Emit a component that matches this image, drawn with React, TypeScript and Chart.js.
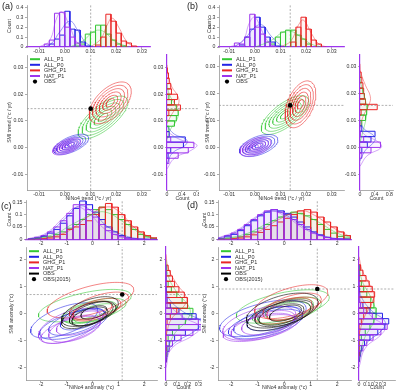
import React, { useEffect, useRef } from "react";
import { Chart, registerables } from "chart.js";
Chart.register(...registerables);

const FONT = "'Liberation Sans', Arial, sans-serif";
Chart.defaults.font.family = FONT;

const GREEN = "#33c733";
const BLUE = "#2323e6";
const RED = "#ea2626";
const PURPLE = "#9d35ee";
const BLACK = "#111111";
const SERIES_COLORS = [GREEN, BLUE, RED, PURPLE];

// ---------- tick labels ----------
const trendTicks = [-0.01, 0, 0.01, 0.02, 0.03];
const trendLabels = ["-0.01", "0.00", "0.01", "0.02", "0.03"];
const abCountTicks = [0, 0.1, 0.2, 0.3, 0.4];
const abCountLabels = ["0", "0.1", "0.2", "0.3", "0.4"];
const abRightTicks = [0, 0.4, 0.8];
const abRightLabels = ["0", "0.4", "0.8"];
const anomTicks = [-2, -1, 0, 1, 2];
const anomLabels = ["-2", "-1", "0", "1", "2"];
const cdCountTicks = [0, 0.05, 0.1, 0.15];
const cdCountLabels = ["0", "0.05", "0.1", "0.15"];
const cdRightTicks = [0, 0.1, 0.2, 0.3];
const cdRightLabels = ["0", "0.1", "0.2", "0.3"];

// ---------- panel (a) ----------
const aObs = [0.0101, 0.0146];
const aTopWidth = 0.002;
const aTopStarts = [0.004, -0.006, 0.012, -0.008];
const aTopAllP1 = [0.01, 0.03, 0.13, 0.15, 0.22, 0.22, 0.13, 0.07, 0.03, 0.01];
const aTopAllP0 = [0.03, 0.08, 0.12, 0.36, 0.18, 0.17, 0.05, 0.01];
const aTopGhgP1 = [0.02, 0.1, 0.33, 0.26, 0.14, 0.06, 0.04, 0.01];
const aTopNatP1 = [0.03, 0.07, 0.34, 0.35, 0.2, 0.1, 0.04, 0.01];
const aTopCurveAllP1 = [[0.002, 0], [0.007, 0.06], [0.011, 0.15], [0.0135, 0.17], [0.016, 0.14], [0.02, 0.05], [0.025, 0]];
const aTopCurveAllP0 = [[-0.008, 0], [-0.005, 0.04], [-0.002, 0.15], [0.002, 0.26], [0.005, 0.17], [0.008, 0.05], [0.011, 0]];
const aTopCurveGhgP1 = [[0.01, 0], [0.014, 0.08], [0.0165, 0.22], [0.0185, 0.29], [0.021, 0.2], [0.024, 0.06], [0.027, 0]];
const aTopCurveNatP1 = [[-0.01, 0], [-0.006, 0.06], [-0.003, 0.3], [-0.001, 0.35], [0.002, 0.2], [0.005, 0.04], [0.008, 0]];
const aRightWidth = 0.002;
const aRightStarts = [0.006, -0.004, 0.012, -0.006];
const aRightAllP1 = [0.05, 0.2, 0.25, 0.3, 0.25, 0.12, 0.05];
const aRightAllP0 = [0.03, 0.1, 0.44, 0.49, 0.06];
const aRightGhgP1 = [0.05, 0.36, 0.2, 0.28, 0.12, 0.1, 0.06, 0.04, 0.02];
const aRightNatP1 = [0.05, 0.3, 0.57, 0.72, 0.1];
const aRightCurveAllP1 = [[0.003, 0], [0.007, 0.1], [0.01, 0.25], [0.013, 0.3], [0.016, 0.22], [0.02, 0.06], [0.024, 0]];
const aRightCurveAllP0 = [[-0.006, 0], [-0.002, 0.15], [0.001, 0.5], [0.003, 0.52], [0.005, 0.2], [0.008, 0]];
const aRightCurveGhgP1 = [[0.009, 0], [0.013, 0.15], [0.016, 0.3], [0.019, 0.3], [0.023, 0.12], [0.028, 0.02], [0.031, 0]];
const aRightCurveNatP1 = [[-0.008, 0], [-0.004, 0.2], [-0.001, 0.65], [0.001, 0.8], [0.003, 0.35], [0.006, 0]];
// ellipse = [meanX, meanY, halfWidthX, halfWidthY, correlation]
const aEllAllP1 = [0.0149, 0.0113, 0.0097, 0.008, 0.72];
const aEllAllP0 = [0.0025, 0.0012, 0.0068, 0.0038, 0.6];
const aEllGhgP1 = [0.0177, 0.0168, 0.0082, 0.0078, 0.55];
const aEllNatP1 = [0.0008, 0.0004, 0.0055, 0.0032, 0.55];
const contourLevels = [1, 0.84, 0.68, 0.52, 0.36, 0.2];

// ---------- panel (b) ----------
const bObs = [0.0138, 0.0156];
const bTopWidth = 0.002;
const bTopStarts = [0.006, -0.006, 0.014, -0.008];
const bTopAllP1 = [0.03, 0.1, 0.15, 0.17, 0.17, 0.12, 0.08, 0.03];
const bTopAllP0 = [0.02, 0.1, 0.18, 0.3, 0.2, 0.1, 0.05, 0.01];
const bTopGhgP1 = [0.05, 0.2, 0.3, 0.18, 0.07, 0.03];
const bTopNatP1 = [0.04, 0.03, 0.1, 0.33, 0.2, 0.13, 0.05, 0.01];
const bTopCurveAllP1 = [[0.0, 0], [0.006, 0.06], [0.011, 0.15], [0.014, 0.16], [0.018, 0.1], [0.022, 0.03], [0.026, 0]];
const bTopCurveAllP0 = [[-0.008, 0], [-0.004, 0.08], [0.0, 0.2], [0.003, 0.22], [0.006, 0.12], [0.01, 0.02], [0.012, 0]];
const bTopCurveGhgP1 = [[0.01, 0], [0.014, 0.06], [0.017, 0.22], [0.019, 0.27], [0.022, 0.14], [0.025, 0.03], [0.028, 0]];
const bTopCurveNatP1 = [[-0.01, 0], [-0.005, 0.05], [-0.002, 0.25], [0.0, 0.3], [0.003, 0.15], [0.006, 0.03], [0.009, 0]];
const bRightWidth = 0.002;
const bRightStarts = [0.008, -0.002, 0.012, -0.004];
const bRightAllP1 = [0.05, 0.15, 0.18, 0.2, 0.15, 0.12, 0.08];
const bRightAllP0 = [0.05, 0.2, 0.3, 0.41, 0.05];
const bRightGhgP1 = [0.03, 0.47, 0.15, 0.12, 0.1, 0.08, 0.05, 0.03];
const bRightNatP1 = [0.05, 0.3, 0.56, 0.1, 0.02];
const bRightCurveAllP1 = [[0.002, 0], [0.008, 0.12], [0.012, 0.18], [0.015, 0.18], [0.019, 0.12], [0.024, 0.02], [0.027, 0]];
const bRightCurveAllP0 = [[-0.005, 0], [-0.001, 0.15], [0.002, 0.38], [0.004, 0.4], [0.007, 0.1], [0.01, 0]];
const bRightCurveGhgP1 = [[0.008, 0], [0.012, 0.1], [0.016, 0.25], [0.019, 0.28], [0.023, 0.15], [0.028, 0.02], [0.031, 0]];
const bRightCurveNatP1 = [[-0.007, 0], [-0.003, 0.2], [0.0, 0.58], [0.002, 0.5], [0.005, 0.1], [0.008, 0]];
const bEllAllP1 = [0.0118, 0.012, 0.0093, 0.0072, 0.7];
const bEllAllP0 = [0.0015, 0.0007, 0.0075, 0.0041, 0.5];
const bEllGhgP1 = [0.0178, 0.016, 0.006, 0.0087, 0.45];
const bEllNatP1 = [0.0002, 0.0002, 0.006, 0.0035, 0.45];

// ---------- panel (c) ----------
const cObs = [1.15, 0.71];
const cTopWidth = 0.25;
const cTopStarts = [-2.5, -2.5, -2.5, -2.5];
const cTopAllP1 = [0, 0.002, 0.005, 0.01, 0.02, 0.03, 0.045, 0.06, 0.08, 0.1, 0.12, 0.13, 0.12, 0.1, 0.08, 0.06, 0.04, 0.02, 0.01, 0.004];
const cTopAllP0 = [0.002, 0.005, 0.012, 0.025, 0.04, 0.065, 0.095, 0.125, 0.155, 0.14, 0.11, 0.08, 0.05, 0.03, 0.015, 0.006, 0.002, 0, 0, 0];
const cTopGhgP1 = [0, 0, 0.002, 0.005, 0.01, 0.02, 0.04, 0.05, 0.06, 0.075, 0.1, 0.13, 0.145, 0.13, 0.1, 0.075, 0.05, 0.03, 0.015, 0.006];
const cTopNatP1 = [0.003, 0.008, 0.015, 0.03, 0.05, 0.075, 0.105, 0.14, 0.14, 0.12, 0.09, 0.06, 0.035, 0.02, 0.01, 0.004, 0.001, 0, 0, 0];
const cTopCurveAllP1 = [[-2.5, 0], [-1.5, 0.02], [-0.8, 0.06], [0, 0.1], [0.5, 0.11], [1.2, 0.07], [2, 0.015], [2.5, 0]];
const cTopCurveAllP0 = [[-2.5, 0], [-1.8, 0.02], [-1, 0.09], [-0.5, 0.135], [0, 0.11], [0.6, 0.05], [1.4, 0.01], [2.2, 0]];
const cTopCurveGhgP1 = [[-2, 0], [-1, 0.03], [-0.2, 0.09], [0.5, 0.13], [1, 0.115], [1.6, 0.05], [2.2, 0.01], [2.5, 0]];
const cTopCurveNatP1 = [[-2.5, 0.002], [-1.8, 0.025], [-1.1, 0.09], [-0.6, 0.13], [-0.1, 0.1], [0.5, 0.04], [1.2, 0.008], [2, 0]];
const cRightWidth = 0.2;
const cRightStarts = [-1.8, -1.8, -1.8, -1.8];
const cRightAllP1 = [0, 0, 0, 0, 0.02, 0.06, 0.12, 0.18, 0.24, 0.25, 0.2, 0.15, 0.1, 0.05, 0.02, 0, 0, 0];
const cRightAllP0 = [0, 0, 0.01, 0.03, 0.08, 0.18, 0.3, 0.36, 0.28, 0.12, 0.04, 0.01, 0, 0, 0, 0, 0, 0];
const cRightGhgP1 = [0, 0, 0, 0, 0, 0, 0, 0.01, 0.04, 0.1, 0.2, 0.2, 0.17, 0.12, 0.08, 0.06, 0.04, 0.02];
const cRightNatP1 = [0, 0.01, 0.03, 0.06, 0.14, 0.25, 0.33, 0.3, 0.15, 0.05, 0.01, 0, 0, 0, 0, 0, 0, 0];
const cRightCurveAllP1 = [[-1.6, 0], [-0.8, 0.07], [-0.2, 0.2], [0.2, 0.22], [0.8, 0.1], [1.4, 0.02], [2, 0]];
const cRightCurveAllP0 = [[-1.8, 0], [-1.2, 0.05], [-0.6, 0.28], [-0.3, 0.33], [0.1, 0.15], [0.6, 0.02], [1, 0]];
const cRightCurveGhgP1 = [[-0.8, 0], [-0.2, 0.05], [0.3, 0.17], [0.6, 0.19], [1.1, 0.1], [1.7, 0.02], [2.2, 0]];
const cRightCurveNatP1 = [[-2, 0], [-1.3, 0.05], [-0.8, 0.25], [-0.5, 0.32], [-0.1, 0.15], [0.4, 0.02], [0.8, 0]];
const cEllAllP1 = [[-0.3, 0.3, 1.8, 0.6, 0.6], [0.05, 0.12, 1.25, 0.45, 0.6], [0.1, 0.02, 0.85, 0.35, 0.55], [-0.1, 0.05, 1.05, 0.42, 0.55]];
const cEllAllP0 = [[-1.1, -0.25, 1.3, 0.65, 0.6], [-0.6, -0.3, 1.1, 0.5, 0.6], [-0.4, -0.2, 0.85, 0.4, 0.55], [-0.75, -0.4, 1.3, 0.55, 0.6]];
const cEllGhgP1 = [[-0.08, 0.5, 1.68, 0.66, 0.6], [0.25, 0.3, 1.15, 0.5, 0.6], [0.15, 0.15, 0.95, 0.42, 0.55], [0.0, 0.12, 0.75, 0.35, 0.5]];
const cEllNatP1 = [[-0.9, -0.45, 1.2, 0.65, 0.55], [-0.7, -0.55, 1.0, 0.5, 0.5], [-0.5, -0.35, 0.9, 0.45, 0.55], [-0.85, -0.6, 1.15, 0.5, 0.6]];
const cEllObs = [[-0.1, 0.08, 1.1, 0.55, 0.55], [0, 0, 0.9, 0.45, 0.55], [-0.1, -0.1, 0.7, 0.35, 0.5], [0.05, 0.05, 0.5, 0.25, 0.5], [-0.2, -0.05, 1.0, 0.5, 0.6]];

// ---------- panel (d) ----------
const dObs = [1.25, 0.9];
const dTopWidth = 0.25;
const dTopStarts = [-2.5, -2.5, -2.5, -2.5];
const dTopAllP1 = [0, 0.002, 0.005, 0.01, 0.02, 0.03, 0.045, 0.06, 0.075, 0.09, 0.1, 0.11, 0.105, 0.095, 0.08, 0.06, 0.04, 0.025, 0.012, 0.005];
const dTopAllP0 = [0.003, 0.01, 0.02, 0.035, 0.055, 0.075, 0.095, 0.11, 0.12, 0.115, 0.105, 0.09, 0.07, 0.05, 0.03, 0.018, 0.008, 0.003, 0.001, 0];
const dTopGhgP1 = [0, 0, 0.002, 0.005, 0.01, 0.018, 0.028, 0.04, 0.055, 0.07, 0.085, 0.1, 0.115, 0.12, 0.11, 0.09, 0.07, 0.05, 0.03, 0.015];
const dTopNatP1 = [0.005, 0.015, 0.025, 0.04, 0.06, 0.08, 0.1, 0.115, 0.12, 0.11, 0.1, 0.08, 0.06, 0.04, 0.025, 0.015, 0.007, 0.003, 0, 0];
const dTopCurveAllP1 = [[-2.5, 0], [-1.5, 0.02], [-0.7, 0.06], [0.1, 0.1], [0.5, 0.105], [1.2, 0.075], [2, 0.025], [2.5, 0.008]];
const dTopCurveAllP0 = [[-2.5, 0.003], [-1.8, 0.03], [-1, 0.09], [-0.4, 0.115], [0.2, 0.09], [0.9, 0.04], [1.7, 0.008], [2.5, 0]];
const dTopCurveGhgP1 = [[-2, 0], [-1, 0.03], [-0.2, 0.08], [0.6, 0.115], [1.1, 0.1], [1.8, 0.05], [2.5, 0.01]];
const dTopCurveNatP1 = [[-2.5, 0.005], [-1.8, 0.035], [-1, 0.095], [-0.5, 0.115], [0.1, 0.09], [0.8, 0.04], [1.6, 0.008], [2.3, 0]];
const dRightWidth = 0.2;
const dRightStarts = [-1.8, -1.8, -1.8, -1.8];
const dRightAllP1 = [0, 0, 0, 0.01, 0.03, 0.08, 0.14, 0.19, 0.22, 0.22, 0.19, 0.15, 0.1, 0.06, 0.03, 0.01, 0, 0];
const dRightAllP0 = [0, 0.01, 0.03, 0.07, 0.14, 0.24, 0.33, 0.38, 0.3, 0.14, 0.05, 0.01, 0, 0, 0, 0, 0, 0];
const dRightGhgP1 = [0, 0, 0, 0, 0, 0, 0.01, 0.03, 0.06, 0.1, 0.15, 0.19, 0.2, 0.17, 0.13, 0.09, 0.05, 0.02];
const dRightNatP1 = [0.01, 0.02, 0.05, 0.1, 0.18, 0.28, 0.36, 0.3, 0.17, 0.06, 0.02, 0, 0, 0, 0, 0, 0, 0];
const dRightCurveAllP1 = [[-1.8, 0], [-1, 0.06], [-0.3, 0.19], [0.1, 0.21], [0.6, 0.15], [1.2, 0.04], [1.8, 0]];
const dRightCurveAllP0 = [[-1.8, 0], [-1.2, 0.07], [-0.6, 0.3], [-0.3, 0.33], [0.1, 0.16], [0.6, 0.03], [1, 0]];
const dRightCurveGhgP1 = [[-0.8, 0], [-0.2, 0.06], [0.4, 0.17], [0.7, 0.19], [1.1, 0.13], [1.6, 0.04], [2.1, 0]];
const dRightCurveNatP1 = [[-2, 0], [-1.3, 0.08], [-0.8, 0.28], [-0.5, 0.33], [-0.1, 0.15], [0.4, 0.03], [0.8, 0]];
const dEllAllP1 = [[-0.05, 0.25, 1.75, 0.62, 0.55], [0.1, 0.1, 1.3, 0.5, 0.55], [0.0, 0.0, 1.0, 0.42, 0.5], [0.2, 0.15, 0.9, 0.4, 0.5]];
const dEllAllP0 = [[-0.8, -0.19, 1.63, 0.68, 0.55], [-0.6, -0.3, 1.3, 0.55, 0.55], [-0.4, -0.2, 1.0, 0.45, 0.5], [-0.7, -0.4, 1.4, 0.55, 0.55]];
const dEllGhgP1 = [[0.27, 0.43, 1.38, 0.63, 0.55], [0.3, 0.25, 1.1, 0.5, 0.55], [0.2, 0.15, 0.85, 0.42, 0.5], [0.1, 0.1, 1.2, 0.5, 0.55]];
const dEllNatP1 = [[-0.93, -0.37, 1.38, 0.63, 0.5], [-0.8, -0.5, 1.2, 0.5, 0.5], [-0.6, -0.35, 1.0, 0.45, 0.5], [-0.9, -0.55, 1.4, 0.5, 0.55]];
const dEllObs = [[-0.07, 0.1, 1.35, 0.65, 0.5], [0, 0, 1.1, 0.5, 0.5], [-0.1, -0.05, 0.85, 0.4, 0.5], [0.05, 0.0, 0.6, 0.3, 0.5], [-0.2, -0.1, 1.2, 0.55, 0.55]];

// ---------- helpers ----------
function rgba(hex: string, a: number) {
  const n = parseInt(hex.slice(1), 16);
  return `rgba(${(n >> 16) & 255},${(n >> 8) & 255},${n & 255},${a})`;
}

function histDS(start: number, width: number, counts: number[], color: string, horizontal: boolean) {
  const data: any[] = [];
  counts.forEach((c, i) => {
    const a = start + i * width;
    const b = a + width;
    [[a, 0], [a, c], [b, c], [b, 0]].forEach(([u, v]) => data.push(horizontal ? { x: v, y: u } : { x: u, y: v }));
  });
  return { data, borderColor: color, backgroundColor: rgba(color, 0.05), fill: "shape", borderWidth: 1, pointRadius: 0, tension: 0 };
}

function curveDS(points: number[][], color: string, horizontal: boolean) {
  return {
    data: points.map(([u, v]) => (horizontal ? { x: v, y: u } : { x: u, y: v })),
    borderColor: rgba(color, 0.55), borderWidth: 0.8, pointRadius: 0, tension: 0.45, fill: false,
  };
}

function ellipseDS(e: number[], k: number, color: string) {
  const [mx, my, sx, sy, r] = e;
  const q = Math.sqrt(1 - r * r);
  const data: any[] = [];
  for (let i = 0; i <= 90; i++) {
    const t = (i / 90) * Math.PI * 2;
    data.push({ x: mx + k * sx * Math.cos(t), y: my + k * sy * (r * Math.cos(t) + q * Math.sin(t)) });
  }
  return { data, borderColor: rgba(color, color === BLACK ? 0.85 : 0.75), borderWidth: 0.75, pointRadius: 0, tension: 0, fill: false };
}

function dashDS(x0: number, y0: number, x1: number, y1: number) {
  return { data: [{ x: x0, y: y0 }, { x: x1, y: y1 }], borderColor: "#9a9a9a", borderDash: [2, 1.6], borderWidth: 0.8, pointRadius: 0, fill: false };
}

function dotDS(x: number, y: number) {
  return { data: [{ x, y }], showLine: false, pointRadius: 2.3, pointBackgroundColor: "#000", pointBorderColor: "#000", pointBorderWidth: 0 };
}

type Rect = { cl: number; ct: number; cr: number; cb: number; pl: number; pt: number; pr: number; pb: number };
type Axis = { min: number; max: number; ticks: number[]; labels: string[]; title?: string; titleOff?: number; border?: string };

function legendPlugin(items: any[]) {
  return {
    id: "inlineLegend",
    afterDraw(chart: any) {
      const { ctx, chartArea } = chart;
      ctx.save();
      ctx.font = `5.5px ${FONT}`;
      ctx.textBaseline = "middle";
      items.forEach((it: any, i: number) => {
        const y = chartArea.top + 4.2 + i * 5.6;
        const x = chartArea.left + 3;
        if (it[2] === "line") {
          ctx.strokeStyle = it[1];
          ctx.lineWidth = 2;
          ctx.beginPath();
          ctx.moveTo(x, y);
          ctx.lineTo(x + 10, y);
          ctx.stroke();
        } else {
          ctx.fillStyle = it[1];
          ctx.beginPath();
          ctx.arc(x + 5, y, 2.1, 0, Math.PI * 2);
          ctx.fill();
        }
        ctx.fillStyle = "#333";
        ctx.fillText(it[0], x + 14, y + 0.3);
      });
      ctx.restore();
    },
  };
}

function makeConfig(rect: Rect, xa: Axis, ya: Axis, datasets: any[], plugins: any[] = []) {
  const xh = rect.cb - rect.pb;
  const yw = rect.pl - rect.cl;
  const axis = (a: Axis, isX: boolean) => ({
    type: "linear",
    min: a.min,
    max: a.max,
    position: isX ? "bottom" : "left",
    afterBuildTicks: (s: any) => {
      s.ticks = a.ticks.map((v) => ({ value: v }));
    },
    afterFit: (s: any) => {
      if (isX) s.height = xh;
      else s.width = yw;
      s.paddingLeft = 0;
      s.paddingRight = 0;
      s.paddingTop = 0;
      s.paddingBottom = 0;
    },
    ticks: {
      autoSkip: false, maxRotation: 0, minRotation: 0, padding: isX ? -1 : 1.5, color: "#333",
      font: { size: 5.2, family: FONT }, callback: (_v: any, i: number) => a.labels[i],
    },
    grid: { display: true, drawOnChartArea: false, drawTicks: true, tickLength: 2, color: "#8a8a8a", lineWidth: 0.7 },
    border: { display: true, color: a.border || "#8a8a8a", width: a.border ? 1.2 : 0.7 },
    title: {
      display: !!a.title, text: a.title || "", color: "#333", font: { size: 5.2, family: FONT },
      padding: isX ? { top: 0, bottom: a.titleOff || 0 } : { top: a.titleOff || 0, bottom: 0 },
    },
  });
  return {
    type: "line",
    data: { datasets: datasets.slice().reverse() },
    options: {
      responsive: false, animation: false, devicePixelRatio: 1, events: [],
      layout: { autoPadding: false, padding: { left: 0, top: rect.pt - rect.ct, right: rect.cr - rect.pr, bottom: 0 } },
      plugins: { legend: { display: false }, tooltip: { enabled: false } },
      scales: { x: axis(xa, true), y: axis(ya, false) },
    },
    plugins,
  };
}

type PanelDef = {
  top: Rect; main: Rect; right: Rect;
  xr: number[]; yr: number[]; cr: number[]; rr: number[];
  xTicks: number[]; xLabels: string[]; yTicks: number[]; yLabels: string[];
  cTicks: number[]; cLabels: string[]; rTicks: number[]; rLabels: string[];
  xTitle: string; yTitle: string; topTitleOff: number; mainTitleOff: number;
  obs: number[];
  topW: number; topStarts: number[]; topCounts: number[][]; topCurves: number[][][];
  rightW: number; rightStarts: number[]; rightCounts: number[][]; rightCurves: number[][][];
  ellipses: number[][][];
  legend: any[];
};

function panelConfigs(p: PanelDef) {
  const topDS: any[] = [dashDS(p.obs[0], p.cr[0], p.obs[0], p.cr[1])];
  const rightDS: any[] = [dashDS(p.rr[0], p.obs[1], p.rr[1], p.obs[1])];
  for (let s = 0; s < 4; s++) {
    topDS.push(histDS(p.topStarts[s], p.topW, p.topCounts[s], SERIES_COLORS[s], false));
    rightDS.push(histDS(p.rightStarts[s], p.rightW, p.rightCounts[s], SERIES_COLORS[s], true));
  }
  for (let s = 0; s < 4; s++) {
    topDS.push(curveDS(p.topCurves[s], SERIES_COLORS[s], false));
    rightDS.push(curveDS(p.rightCurves[s], SERIES_COLORS[s], true));
  }
  const mainDS: any[] = [dashDS(p.obs[0], p.yr[0], p.obs[0], p.yr[1]), dashDS(p.xr[0], p.obs[1], p.xr[1], p.obs[1])];
  const ellColors = [GREEN, BLUE, RED, PURPLE, BLACK];
  p.ellipses.forEach((list: any, s: number) => list.forEach((e: number[]) => mainDS.push(ellipseDS(e, e[5], ellColors[s]))));
  mainDS.push(dotDS(p.obs[0], p.obs[1]));

  const xAxisHist: Axis = { min: p.xr[0], max: p.xr[1], ticks: p.xTicks, labels: p.xLabels, border: PURPLE };
  const cAxis: Axis = { min: p.cr[0], max: p.cr[1], ticks: p.cTicks, labels: p.cLabels, title: "Count", titleOff: p.topTitleOff };
  const xMain: Axis = { min: p.xr[0], max: p.xr[1], ticks: p.xTicks, labels: p.xLabels, title: p.xTitle };
  const yMain: Axis = { min: p.yr[0], max: p.yr[1], ticks: p.yTicks, labels: p.yLabels, title: p.yTitle, titleOff: p.mainTitleOff };
  const yRight: Axis = { min: p.yr[0], max: p.yr[1], ticks: p.yTicks, labels: p.yLabels, border: PURPLE };
  const rAxis: Axis = { min: p.rr[0], max: p.rr[1], ticks: p.rTicks, labels: p.rLabels, title: "Count" };
  return [
    { rect: p.top, cfg: () => makeConfig(p.top, xAxisHist, cAxis, topDS) },
    { rect: p.main, cfg: () => makeConfig(p.main, xMain, yMain, mainDS, [legendPlugin(p.legend)]) },
    { rect: p.right, cfg: () => makeConfig(p.right, rAxis, yRight, rightDS) },
  ];
}

const abLegend = [["ALL_P1", GREEN, "line"], ["ALL_P0", BLUE, "line"], ["GHG_P1", RED, "line"], ["NAT_P1", PURPLE, "line"], ["OBS", "#000", "dot"]];
const cdLegend = [["ALL_P1", GREEN, "line"], ["ALL_P0", BLUE, "line"], ["GHG_P1", RED, "line"], ["NAT_P1", PURPLE, "line"], ["OBS", "#000", "line"], ["OBS(2015)", "#000", "dot"]];

const contourSet = (e: number[]) => contourLevels.map((k) => [...e, k]);
const singleSet = (list: number[][]) => list.map((e) => [...e, 1]);

const PANELS: PanelDef[] = [
  {
    top: { cl: 0, ct: 0, cr: 152, cb: 54, pl: 27, pt: 5, pr: 150, pb: 47 },
    main: { cl: 0, ct: 50, cr: 152, cb: 202, pl: 27, pt: 55, pr: 150, pb: 190 },
    right: { cl: 150, ct: 50, cr: 199, cb: 202, pl: 167, pt: 55, pr: 198, pb: 190 },
    xr: [-0.0147, 0.0332], yr: [-0.0159, 0.0347], cr: [0, 0.423], rr: [0, 0.83],
    xTicks: trendTicks, xLabels: trendLabels, yTicks: trendTicks, yLabels: trendLabels,
    cTicks: abCountTicks, cLabels: abCountLabels, rTicks: abRightTicks, rLabels: abRightLabels,
    xTitle: "NiNo4 trend (°c / yr)", yTitle: "SMI trend (°c / yr)", topTitleOff: 6.7, mainTitleOff: 6.7,
    obs: aObs,
    topW: aTopWidth, topStarts: aTopStarts, topCounts: [aTopAllP1, aTopAllP0, aTopGhgP1, aTopNatP1],
    topCurves: [aTopCurveAllP1, aTopCurveAllP0, aTopCurveGhgP1, aTopCurveNatP1],
    rightW: aRightWidth, rightStarts: aRightStarts, rightCounts: [aRightAllP1, aRightAllP0, aRightGhgP1, aRightNatP1],
    rightCurves: [aRightCurveAllP1, aRightCurveAllP0, aRightCurveGhgP1, aRightCurveNatP1],
    ellipses: [contourSet(aEllAllP1), contourSet(aEllAllP0), contourSet(aEllGhgP1), contourSet(aEllNatP1)] as any,
    legend: abLegend,
  },
  {
    top: { cl: 196, ct: 0, cr: 346, cb: 54, pl: 219, pt: 5, pr: 344, pb: 47 },
    main: { cl: 196, ct: 50, cr: 346, cb: 202, pl: 219, pt: 55, pr: 344, pb: 190 },
    right: { cl: 344, ct: 50, cr: 396, cb: 202, pl: 360, pt: 55, pr: 393, pb: 190 },
    xr: [-0.014, 0.0348], yr: [-0.0158, 0.0343], cr: [0, 0.423], rr: [0, 0.9],
    xTicks: trendTicks, xLabels: trendLabels, yTicks: trendTicks, yLabels: trendLabels,
    cTicks: abCountTicks, cLabels: abCountLabels, rTicks: abRightTicks, rLabels: abRightLabels,
    xTitle: "NiNo4 trend (°c / yr)", yTitle: "SMI trend (°c / yr)", topTitleOff: 10, mainTitleOff: 8.4,
    obs: bObs,
    topW: bTopWidth, topStarts: bTopStarts, topCounts: [bTopAllP1, bTopAllP0, bTopGhgP1, bTopNatP1],
    topCurves: [bTopCurveAllP1, bTopCurveAllP0, bTopCurveGhgP1, bTopCurveNatP1],
    rightW: bRightWidth, rightStarts: bRightStarts, rightCounts: [bRightAllP1, bRightAllP0, bRightGhgP1, bRightNatP1],
    rightCurves: [bRightCurveAllP1, bRightCurveAllP0, bRightCurveGhgP1, bRightCurveNatP1],
    ellipses: [contourSet(bEllAllP1), contourSet(bEllAllP0), contourSet(bEllGhgP1), contourSet(bEllNatP1)] as any,
    legend: abLegend,
  },
  {
    top: { cl: 0, ct: 195, cr: 159, cb: 246, pl: 26, pt: 200, pr: 157, pb: 239.3 },
    main: { cl: 0, ct: 242, cr: 159, cb: 391, pl: 26, pt: 247, pr: 157, pb: 380.7 },
    right: { cl: 157, ct: 242, cr: 203, cb: 391, pl: 166, pt: 247, pr: 201, pb: 380.7 },
    xr: [-2.58, 2.5], yr: [-2.48, 2.47], cr: [0, 0.159], rr: [0, 0.325],
    xTicks: anomTicks, xLabels: anomLabels, yTicks: anomTicks, yLabels: anomLabels,
    cTicks: cdCountTicks, cLabels: cdCountLabels, rTicks: cdRightTicks, rLabels: cdRightLabels,
    xTitle: "NiNo4 anomaly (°c)", yTitle: "SMI anomaly (°c)", topTitleOff: 6.7, mainTitleOff: 8.4,
    obs: cObs,
    topW: cTopWidth, topStarts: cTopStarts, topCounts: [cTopAllP1, cTopAllP0, cTopGhgP1, cTopNatP1],
    topCurves: [cTopCurveAllP1, cTopCurveAllP0, cTopCurveGhgP1, cTopCurveNatP1],
    rightW: cRightWidth, rightStarts: cRightStarts, rightCounts: [cRightAllP1, cRightAllP0, cRightGhgP1, cRightNatP1],
    rightCurves: [cRightCurveAllP1, cRightCurveAllP0, cRightCurveGhgP1, cRightCurveNatP1],
    ellipses: [singleSet(cEllAllP1), singleSet(cEllAllP0), singleSet(cEllGhgP1), singleSet(cEllNatP1), singleSet(cEllObs)] as any,
    legend: cdLegend,
  },
  {
    top: { cl: 196, ct: 195, cr: 353, cb: 246, pl: 218, pt: 200, pr: 351, pb: 239.3 },
    main: { cl: 196, ct: 242, cr: 353, cb: 391, pl: 218, pt: 247, pr: 351, pb: 380.3 },
    right: { cl: 351, ct: 242, cr: 396, cb: 391, pl: 359, pt: 247, pr: 395, pb: 380.3 },
    xr: [-2.49, 2.52], yr: [-2.49, 2.46], cr: [0, 0.159], rr: [0, 0.46],
    xTicks: anomTicks, xLabels: anomLabels, yTicks: anomTicks, yLabels: anomLabels,
    cTicks: cdCountTicks, cLabels: cdCountLabels, rTicks: cdRightTicks, rLabels: cdRightLabels,
    xTitle: "NiNo4 anomaly (°c)", yTitle: "SMI anomaly (°c)", topTitleOff: 5.7, mainTitleOff: 5.7,
    obs: dObs,
    topW: dTopWidth, topStarts: dTopStarts, topCounts: [dTopAllP1, dTopAllP0, dTopGhgP1, dTopNatP1],
    topCurves: [dTopCurveAllP1, dTopCurveAllP0, dTopCurveGhgP1, dTopCurveNatP1],
    rightW: dRightWidth, rightStarts: dRightStarts, rightCounts: [dRightAllP1, dRightAllP0, dRightGhgP1, dRightNatP1],
    rightCurves: [dRightCurveAllP1, dRightCurveAllP0, dRightCurveGhgP1, dRightCurveNatP1],
    ellipses: [singleSet(dEllAllP1), singleSet(dEllAllP0), singleSet(dEllGhgP1), singleSet(dEllNatP1), singleSet(dEllObs)] as any,
    legend: cdLegend,
  },
];

const SPECS = PANELS.flatMap((p) => panelConfigs(p));

const PANEL_LABELS = [
  { text: "(a)", left: 2, top: 1 },
  { text: "(b)", left: 187, top: 1 },
  { text: "(c)", left: 1, top: 201 },
  { text: "(d)", left: 187, top: 200 },
];

export default function App() {
  const refs = useRef<(HTMLCanvasElement | null)[]>([]);
  useEffect(() => {
    const charts = SPECS.map((s, i) => new Chart(refs.current[i] as HTMLCanvasElement, s.cfg() as any));
    return () => charts.forEach((c) => c.destroy());
  }, []);
  return (
    <div style={{ position: "fixed", left: 0, top: 0, width: 396, height: 391, background: "#fff", overflow: "hidden" }}>
      {SPECS.map((s, i) => {
        const w = s.rect.cr - s.rect.cl;
        const h = s.rect.cb - s.rect.ct;
        return (
          <canvas
            key={i}
            ref={(el) => {
              refs.current[i] = el;
            }}
            width={w}
            height={h}
            style={{ position: "absolute", left: s.rect.cl, top: s.rect.ct, width: w, height: h }}
          />
        );
      })}
      {PANEL_LABELS.map((l) => (
        <div key={l.text} style={{ position: "absolute", left: l.left, top: l.top, fontFamily: FONT, fontSize: 9, lineHeight: "10px", color: "#222" }}>
          {l.text}
        </div>
      ))}
    </div>
  );
}
